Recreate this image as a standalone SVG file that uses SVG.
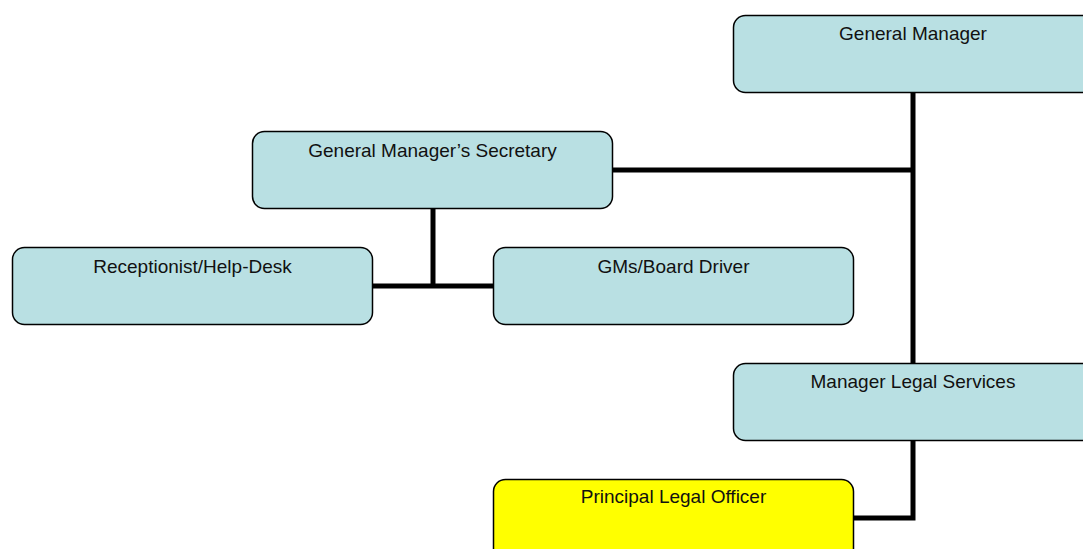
<svg xmlns="http://www.w3.org/2000/svg" width="1083" height="549" viewBox="0 0 1083 549">
<style>
.box{fill:#b9e0e3;stroke:#000;stroke-width:1.5}
.hl{fill:#ffff00;stroke:#000;stroke-width:1.5}
.lbl{font-family:"Liberation Sans",Arial,sans-serif;font-size:19px;fill:#111;text-anchor:middle}
.conn{fill:none;stroke:#000;stroke-width:5}
</style>
<rect width="1083" height="549" fill="#fff"/>
<g id="connectors">
<path class="conn" d="M913 92 V363"/>
<path class="conn" d="M613 170 H913"/>
<path class="conn" d="M433 208 V286"/>
<path class="conn" d="M373 286 H493"/>
<path class="conn" d="M913 440 V518 H853"/>
</g>
<g id="general-manager">
<rect class="box" x="733.5" y="15.5" width="370" height="77" rx="12"/>
<text class="lbl" x="913" y="40">General Manager</text>
</g>
<g id="gm-secretary">
<rect class="box" x="252.5" y="131.5" width="360" height="77" rx="12"/>
<text class="lbl" x="432.5" y="157">General Manager’s Secretary</text>
</g>
<g id="receptionist">
<rect class="box" x="12.5" y="247.5" width="360" height="77" rx="12"/>
<text class="lbl" x="192.5" y="273">Receptionist/Help-Desk</text>
</g>
<g id="gms-board-driver">
<rect class="box" x="493.5" y="247.5" width="360" height="77" rx="12"/>
<text class="lbl" x="673.5" y="273">GMs/Board Driver</text>
</g>
<g id="manager-legal-services">
<rect class="box" x="733.5" y="363.5" width="370" height="77" rx="12"/>
<text class="lbl" x="913" y="388">Manager Legal Services</text>
</g>
<g id="principal-legal-officer">
<rect class="hl" x="493.5" y="479.5" width="360" height="90" rx="12"/>
<text class="lbl" x="673.5" y="503">Principal Legal Officer</text>
</g>
</svg>
